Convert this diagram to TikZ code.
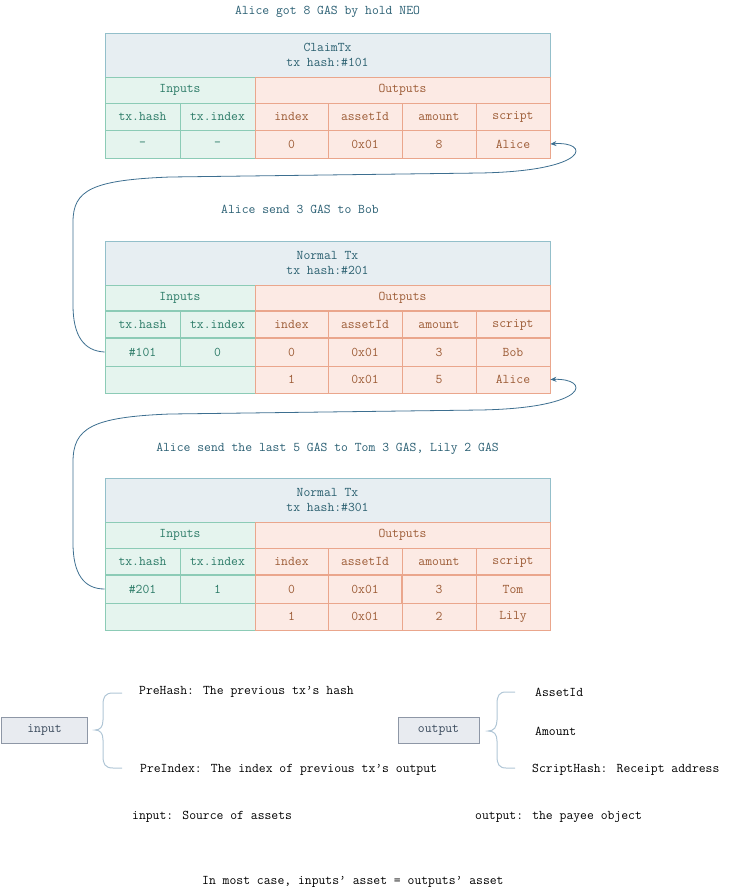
\documentclass[tikz,border=0pt]{standalone}
\usepackage{fontspec}
\usetikzlibrary{arrows.meta}
\definecolor{hdrfill}{HTML}{E7EEF2}
\definecolor{hdrdraw}{HTML}{93BFCA}
\definecolor{hdrtext}{HTML}{2B6070}
\definecolor{infill}{HTML}{E5F4EE}
\definecolor{indraw}{HTML}{8CCBB6}
\definecolor{intext}{HTML}{2A7A66}
\definecolor{outfill}{HTML}{FCEAE4}
\definecolor{outdraw}{HTML}{EAA68C}
\definecolor{outtext}{HTML}{9C5B35}
\definecolor{linkc}{HTML}{3D6F90}
\definecolor{boxfill}{HTML}{E8EBF0}
\definecolor{boxdraw}{HTML}{8E97A6}
\definecolor{boxtext}{HTML}{3A4A5C}
\definecolor{bracec}{HTML}{B0C6D6}
\definecolor{titlec}{HTML}{2A5F73}
\tikzset{
  txt/.style={inner sep=0pt, font=\ttfamily\fontsize{13.3}{15}\selectfont},
  base/.style={txt, line width=0.8pt},
  hdr/.style={base, draw=hdrdraw, fill=hdrfill, text=hdrtext, align=center, minimum width=445, minimum height=44},
  inc/.style={base, draw=indraw, fill=infill, text=intext},
  outc/.style={base, draw=outdraw, fill=outfill, text=outtext},
  hrow/.style={minimum height=27},
  drow/.style={minimum height=28},
  erow/.style={minimum height=27},
  wa/.style={minimum width=75},
  wb/.style={minimum width=73},
  wc/.style={minimum width=74},
  title/.style={txt, text=titlec},
  link/.style={draw=linkc, line width=0.8pt, -{Stealth[length=6pt,width=5pt]}},
  smallbox/.style={txt, draw=boxdraw, fill=boxfill, text=boxtext, line width=0.8pt, minimum height=26},
  bracel/.style={draw=bracec, line width=1pt},
  note/.style={txt, anchor=west, text=black},
  thickin/.style={draw=indraw, line width=1.8pt},
  thickout/.style={draw=outdraw, line width=1.8pt}
}
\newcommand\txtable[3]{%
  \node[hdr] (#1hdr) at (327.5,55) {#2\\#3};
  \node[inc, minimum width=150, minimum height=26] (#1inputs) at (180,90) {Inputs};
  \node[outc, minimum width=295, minimum height=26] (#1outputs) at (402.5,90) {Outputs};
  \node[inc, hrow, wa] (#1ch) at (142.5,116.5) {tx.hash};
  \node[inc, hrow, wa] (#1ci) at (217.5,116.5) {tx.index};
  \node[outc, hrow, wb] (#1cx) at (291.5,116.5) {index};
  \node[outc, hrow, wc] (#1ca) at (365,116.5) {assetId};
  \node[outc, hrow, wc] (#1cm) at (439,116.5) {amount};
  \node[outc, hrow, wc] (#1cs) at (513,116.5) {script};
}
% #1 prefix, #2 y, #3 index, #4 asset, #5 amount, #6 script, #7 row style
\newcommand\outrow[7]{%
  \node[outc, #7, wb] (#1x) at (291.5,#2) {#3};
  \node[outc, #7, wc] (#1a) at (365,#2) {#4};
  \node[outc, #7, wc] (#1m) at (439,#2) {#5};
  \node[outc, #7, wc] (#1s) at (513,#2) {#6};
}
\begin{document}
\begin{tikzpicture}[x=1pt,y=-1pt]
\useasboundingbox (0,0) rectangle (734,895);

% ---------- table 1 ----------
\node[title] (title1) at (327.5,12) {Alice got 8 GAS by hold NEO};
\txtable{ta}{ClaimTx}{tx hash:\#101}
\node[inc, drow, wa] (tar1h) at (142.5,144) {-};
\node[inc, drow, wa] (tar1i) at (217.5,144) {-};
\outrow{tar1}{144}{0}{0x01}{8}{Alice}{drow}

% ---------- table 2 ----------
\node[title] (title2) at (300,209) {Alice send 3 GAS to Bob};
\begin{scope}[shift={(0,208)}]
\txtable{tb}{Normal Tx}{tx hash:\#201}
\node[inc, drow, wa] (tbr1h) at (142.5,144) {\#101};
\node[inc, drow, wa] (tbr1i) at (217.5,144) {0};
\outrow{tbr1}{144}{0}{0x01}{3}{Bob}{drow}
\node[inc, erow, minimum width=150] (tbr2in) at (180,171.5) {};
\outrow{tbr2}{171.5}{1}{0x01}{5}{Alice}{erow}
\draw[thickin] (105,103) -- (255,103);
\draw[thickout] (255,103) -- (550,103);
\draw[thickin] (105,130) -- (255,130);
\draw[thickout] (255,130) -- (550,130);
\end{scope}

% ---------- table 3 ----------
\node[title] (title3) at (327.5,449) {Alice send the last 5 GAS to Tom 3 GAS, Lily 2 GAS};
\begin{scope}[shift={(0,445)}]
\txtable{tc}{Normal Tx}{tx hash:\#301}
\node[inc, drow, wa] (tcr1h) at (142.5,144) {\#201};
\node[inc, drow, wa] (tcr1i) at (217.5,144) {1};
\outrow{tcr1}{144}{0}{0x01}{3}{Tom}{drow}
\node[inc, erow, minimum width=150] (tcr2in) at (180,171.5) {};
\outrow{tcr2}{171.5}{1}{0x01}{2}{Lily}{erow}
\draw[thickin] (105,130) -- (255,130);
\draw[thickout] (255,130) -- (550,130);
\draw[thickout] (402,130) -- (402,158);
\end{scope}

% ---------- connectors ----------
\draw[link] (tbr1h.west) .. controls (84,351) and (73,336) .. (73,305)
  -- (73,222) .. controls (73,190) and (92,180) .. (170,177)
  -- (480,173) .. controls (592,171) and (590,141) .. (tar1s.east);
\draw[link] (tcr1h.west) .. controls (84,589) and (73,574) .. (73,543)
  -- (73,462) .. controls (73,428) and (92,417) .. (170,414)
  -- (480,410) .. controls (592,408) and (590,378) .. (tbr2s.east);

% ---------- legend ----------
\node[smallbox, minimum width=86] (inbox) at (44.5,730) {input};
\draw[bracel] (122,693) -- (113,693) .. controls (105,693) and (103,697) .. (103,705)
  -- (103,720) .. controls (103,727) and (100,730) .. (95,730)
  .. controls (100,730) and (103,733) .. (103,740)
  -- (103,756) .. controls (103,764) and (105,768) .. (113,768) -- (122,768);
\node[note] (prehash) at (139,692) {PreHash: The previous tx’s hash};
\node[note] (preindex) at (140,770) {PreIndex: The index of previous tx’s output};

\node[smallbox, minimum width=81] (outbox) at (438.5,730) {output};
\draw[bracel] (515,692) -- (506,692) .. controls (499,692) and (497,696) .. (497,704)
  -- (497,720) .. controls (497,727) and (494,731) .. (488,731)
  .. controls (494,731) and (497,734) .. (497,741)
  -- (497,756) .. controls (497,764) and (499,768) .. (506,768) -- (515,768);
\node[note] (assetid) at (535,692) {AssetId};
\node[note] (amountn) at (535,731) {Amount};
\node[note] (scripth) at (532,770) {ScriptHash: Receipt address};

\node[note] (insrc) at (132,817) {input: Source of assets};
\node[note] (outpay) at (475,817) {output: the payee object};
\node[note] (most) at (202,882) {In most case, inputs’ asset = outputs’ asset};
\end{tikzpicture}
\end{document}
